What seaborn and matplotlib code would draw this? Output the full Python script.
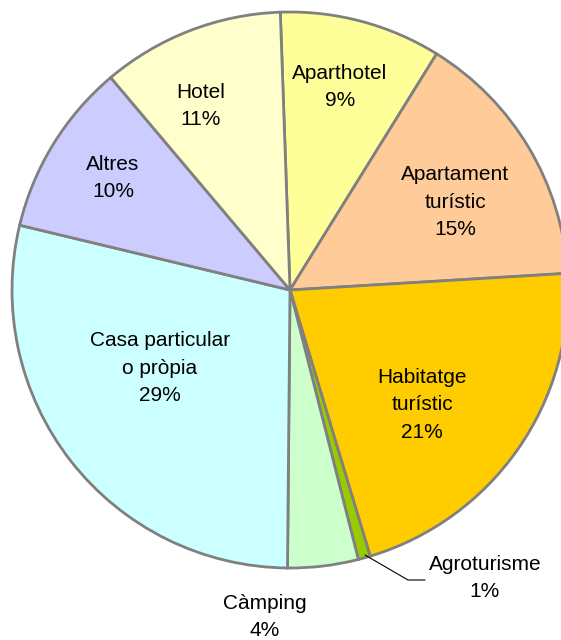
import seaborn as sns
from matplotlib import pyplot as plt

# slice shares (%), clockwise from the top
categories = ['Aparthotel', 'Apartament\nturístic', 'Habitatge\nturístic', 'Agroturisme',
              'Càmping', 'Casa particular\no pròpia', 'Altres', 'Hotel']
shares = [9.4, 15.2, 21.3, 0.7, 4.1, 28.6, 10.1, 10.6]
colors = ['#FFFF99', '#FFCC99', '#FFCC00', '#99CC00',
          '#CCFFCC', '#CCFFFF', '#CCCCFF', '#FFFFCC']

# label centres in pixel coords (x from left, y from top)
label_pos = [(340, 87), (455, 202), (422, 405), (485, 578),
             (265, 617), (160, 368), (113, 178), (201, 106)]

sns.set_theme(style='white')
plt.rcParams['font.family'] = ['Liberation Sans', 'DejaVu Sans']

W, H = 561, 640
fig = plt.figure(figsize=(W / 100, H / 100), dpi=100)
ax = fig.add_axes([0, 0, 1, 1])

cx, cy, r = 290, H - 290, 278
ax.pie(shares, colors=colors, startangle=92, counterclock=False,
       center=(cx, cy), radius=r, frame=True,
       wedgeprops=dict(edgecolor='#808080', linewidth=2))
ax.set_xlim(0, W)
ax.set_ylim(0, H)
ax.set_aspect('equal')
ax.axis('off')

for name, val, (x, y) in zip(categories, shares, label_pos):
    ax.text(x, H - y, f'{name}\n{val:.0f}%', ha='center', va='center',
            fontsize=15, linespacing=1.55, color='black')

# leader line for the thin slice
ax.plot([365, 408, 425], [H - 555, H - 580, H - 580], color='black', lw=0.8)

fig.savefig('out.png', dpi=100)
